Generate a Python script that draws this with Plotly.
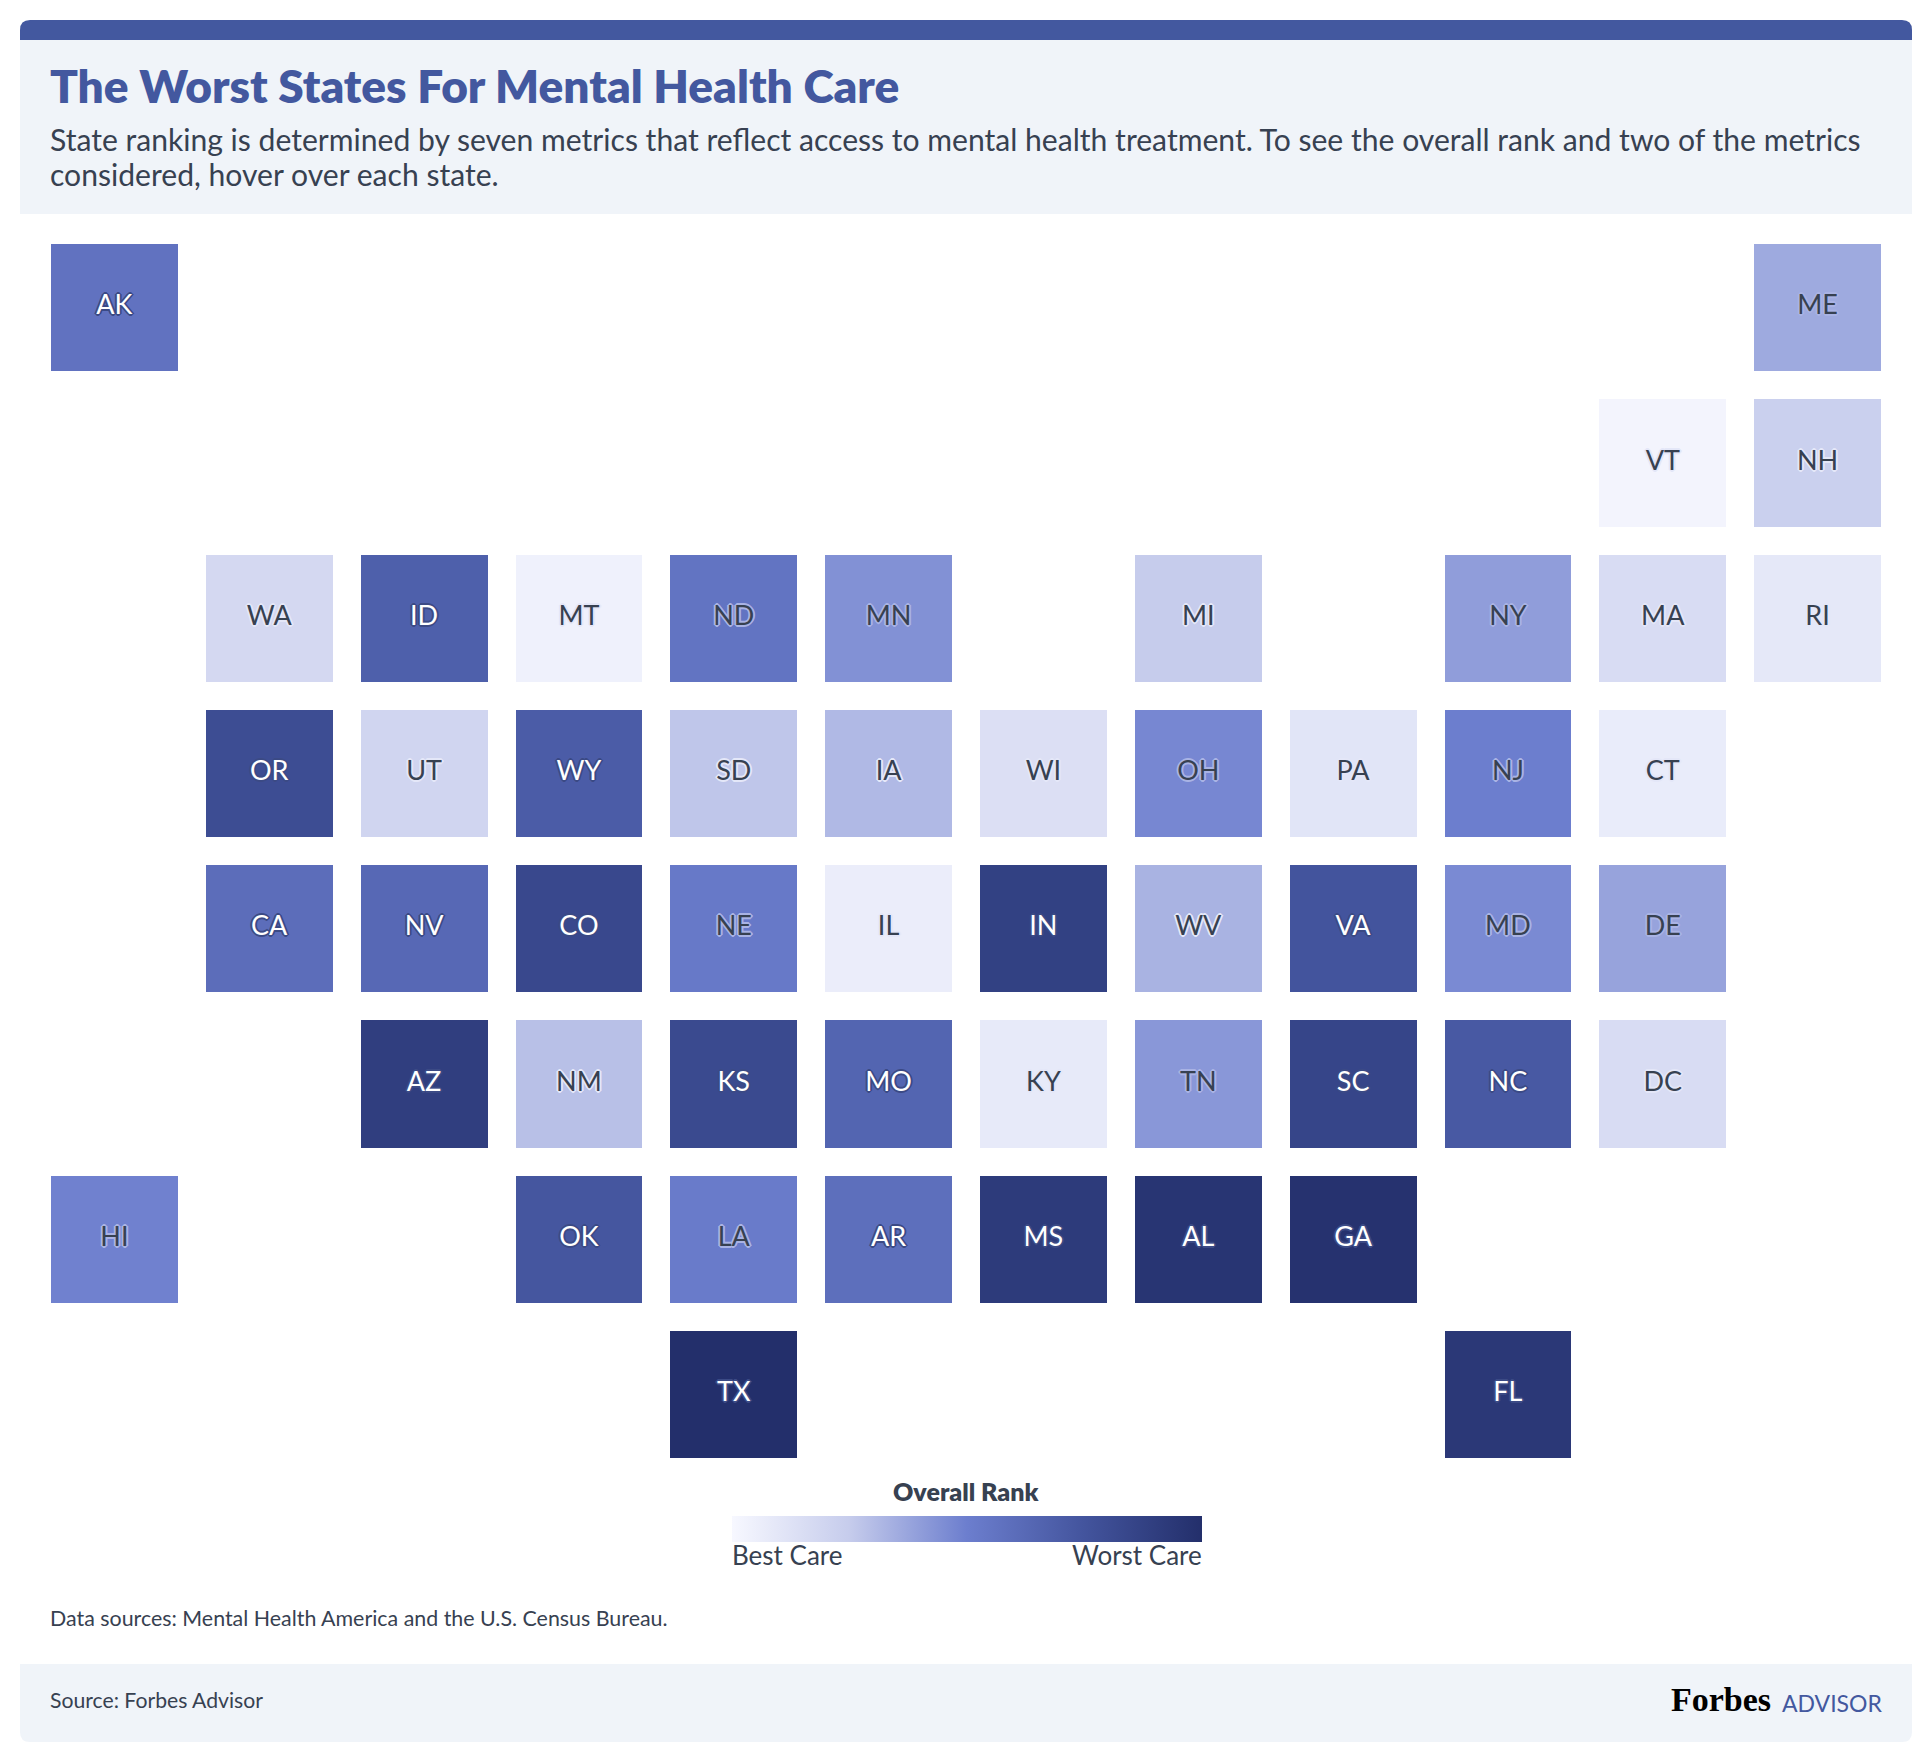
import plotly.graph_objects as go

states = ["AK","ME","VT","NH","WA","ID","MT","ND","MN","MI","NY","MA","RI",
          "OR","UT","WY","SD","IA","WI","OH","PA","NJ","CT",
          "CA","NV","CO","NE","IL","IN","WV","VA","MD","DE",
          "AZ","NM","KS","MO","KY","TN","SC","NC","DC",
          "HI","OK","LA","AR","MS","AL","GA","TX","FL"]
cols = [0,11,10,11,1,2,3,4,5,7,9,10,11,
        1,2,3,4,5,6,7,8,9,10,
        1,2,3,4,5,6,7,8,9,10,
        2,3,4,5,6,7,8,9,10,
        0,3,4,5,6,7,8,4,9]
rows = [0,0,1,1,2,2,2,2,2,2,2,2,2,
        3,3,3,3,3,3,3,3,3,3,
        4,4,4,4,4,4,4,4,4,4,
        5,5,5,5,5,5,5,5,5,
        6,6,6,6,6,6,6,7,7]
scores = [57,36,2,23,18,68,4,56,44,25,40,16,9,
          80,20,70,27,31,14,47,11,50,7,
          60,63,83,53,6,88,33,75,46,38,
          90,29,82,65,8,42,85,72,16,
          49,74,52,59,92,96,98,100,94]
white_labels = ["AK","ID","OR","WY","CA","NV","CO","IN","VA","AZ","KS","MO","SC","NC",
                "OK","AR","MS","AL","GA","TX","FL"]
colorscale = [[0,"#F7F8FF"],[0.25,"#C6CCEC"],[0.5,"#6C7ECE"],[0.75,"#43549D"],[1,"#232F6B"]]

W, H = 1932, 1762
FONT = "Lato"
INK = "#374151"
BLUE = "#43589F"
PANEL = "#F0F4F9"

def px(v): return v / W
def py(v): return 1 - v / H

light_text = [s in white_labels for s in states]
label_colors = ["#FFFFFF" if l else INK for l in light_text]
halo = lambda c: ",".join(f"{dx}px {dy}px 0px {c}" for dx, dy in [(-2,0),(2,0),(0,-2),(0,2),(-1,-1),(1,-1),(-1,1),(1,1)])
def label_halo(is_light, score):
    if is_light:
        return halo("#3B4A85")
    if score >= 36:
        return halo("#A9B3E4")
    return halo("#E4E7F8")
label_shadows = [label_halo(l, s) for l, s in zip(light_text, scores)]

fig = go.Figure()
fig.add_trace(go.Heatmap(
    x=cols, y=rows, z=scores, zmin=0, zmax=100, colorscale=colorscale,
    xgap=28, ygap=28, hoverinfo="skip",
    colorbar=dict(orientation="h", lenmode="pixels", len=470, thicknessmode="pixels", thickness=26,
                  x=px(966.5), xanchor="center", xref="container", y=1-1542/H, yanchor="bottom", yref="container",
                  outlinewidth=0, ticks="", showticklabels=False, xpad=0, ypad=0),
))
fig.add_trace(go.Scatter(
    x=cols, y=rows, text=states, mode="text", hoverinfo="skip", showlegend=False,
    textfont=dict(family=FONT, size=27, color=label_colors, shadow=label_shadows),
    textposition="middle center",
))

def band(path, color):
    fig.add_shape(type="path", path=path, fillcolor=color, line_width=0, layer="below", xref="paper", yref="paper")

L, R = px(20), px(1912)
rx, ry = 10 / W, 10 / H
band(f"M{L},{py(40)} L{L},{py(20)-ry} Q{L},{py(20)} {L+rx},{py(20)} L{R-rx},{py(20)} Q{R},{py(20)} {R},{py(20)-ry} L{R},{py(40)} Z", BLUE)
fig.add_shape(type="rect", x0=L, x1=R, y0=py(214), y1=py(40), fillcolor=PANEL, line_width=0, layer="below", xref="paper", yref="paper")
band(f"M{L},{py(1664)} L{R},{py(1664)} L{R},{py(1742)+ry} Q{R},{py(1742)} {R-rx},{py(1742)} L{L+rx},{py(1742)} Q{L},{py(1742)} {L},{py(1742)+ry} Z", PANEL)

def note(text, x, y, size, color=INK, anchor="left", family=FONT, weight=400):
    off = {"left": -2, "right": 2, "center": 0}[anchor]
    fig.add_annotation(text=text, x=px(x + off), y=py(y), xref="paper", yref="paper", showarrow=False,
                       xanchor=anchor, yanchor="middle", align="left",
                       font=dict(family=family, size=size, color=color, weight=weight))

note("The Worst States For Mental Health Care", 50, 86, 46, BLUE, weight=800)
note("State ranking is determined by seven metrics that reflect access to mental health treatment. To see the overall rank and two of the metrics", 50, 139, 30.1)
note("considered, hover over each state.", 50, 174, 30.1)
note("Overall Rank", 966, 1491, 25, anchor="center", weight=800)
note("Best Care", 732, 1555, 26)
note("Worst Care", 1202, 1555, 26, anchor="right")
note("Data sources: Mental Health America and the U.S. Census Bureau.", 50, 1618, 21.4)
note("Source: Forbes Advisor", 50, 1700, 21.2)
note("Forbes", 1671, 1699, 34, "#000000", family="Liberation Serif", weight=700)
note("ADVISOR", 1782, 1703, 23, BLUE)

fig.update_layout(
    width=W, height=H, margin=dict(l=0, r=0, t=0, b=0, autoexpand=False), paper_bgcolor="white", plot_bgcolor="white",
    showlegend=False,
    xaxis=dict(domain=[px(37), px(1895)], range=[-0.5, 11.5], visible=False, fixedrange=True),
    yaxis=dict(domain=[py(1472), py(230)], range=[7.5, -0.5], visible=False, fixedrange=True),
)
fig.write_html("out.html", post_script="document.body.style.margin='0';document.body.style.overflow='hidden';",
               config={"displayModeBar": False})
